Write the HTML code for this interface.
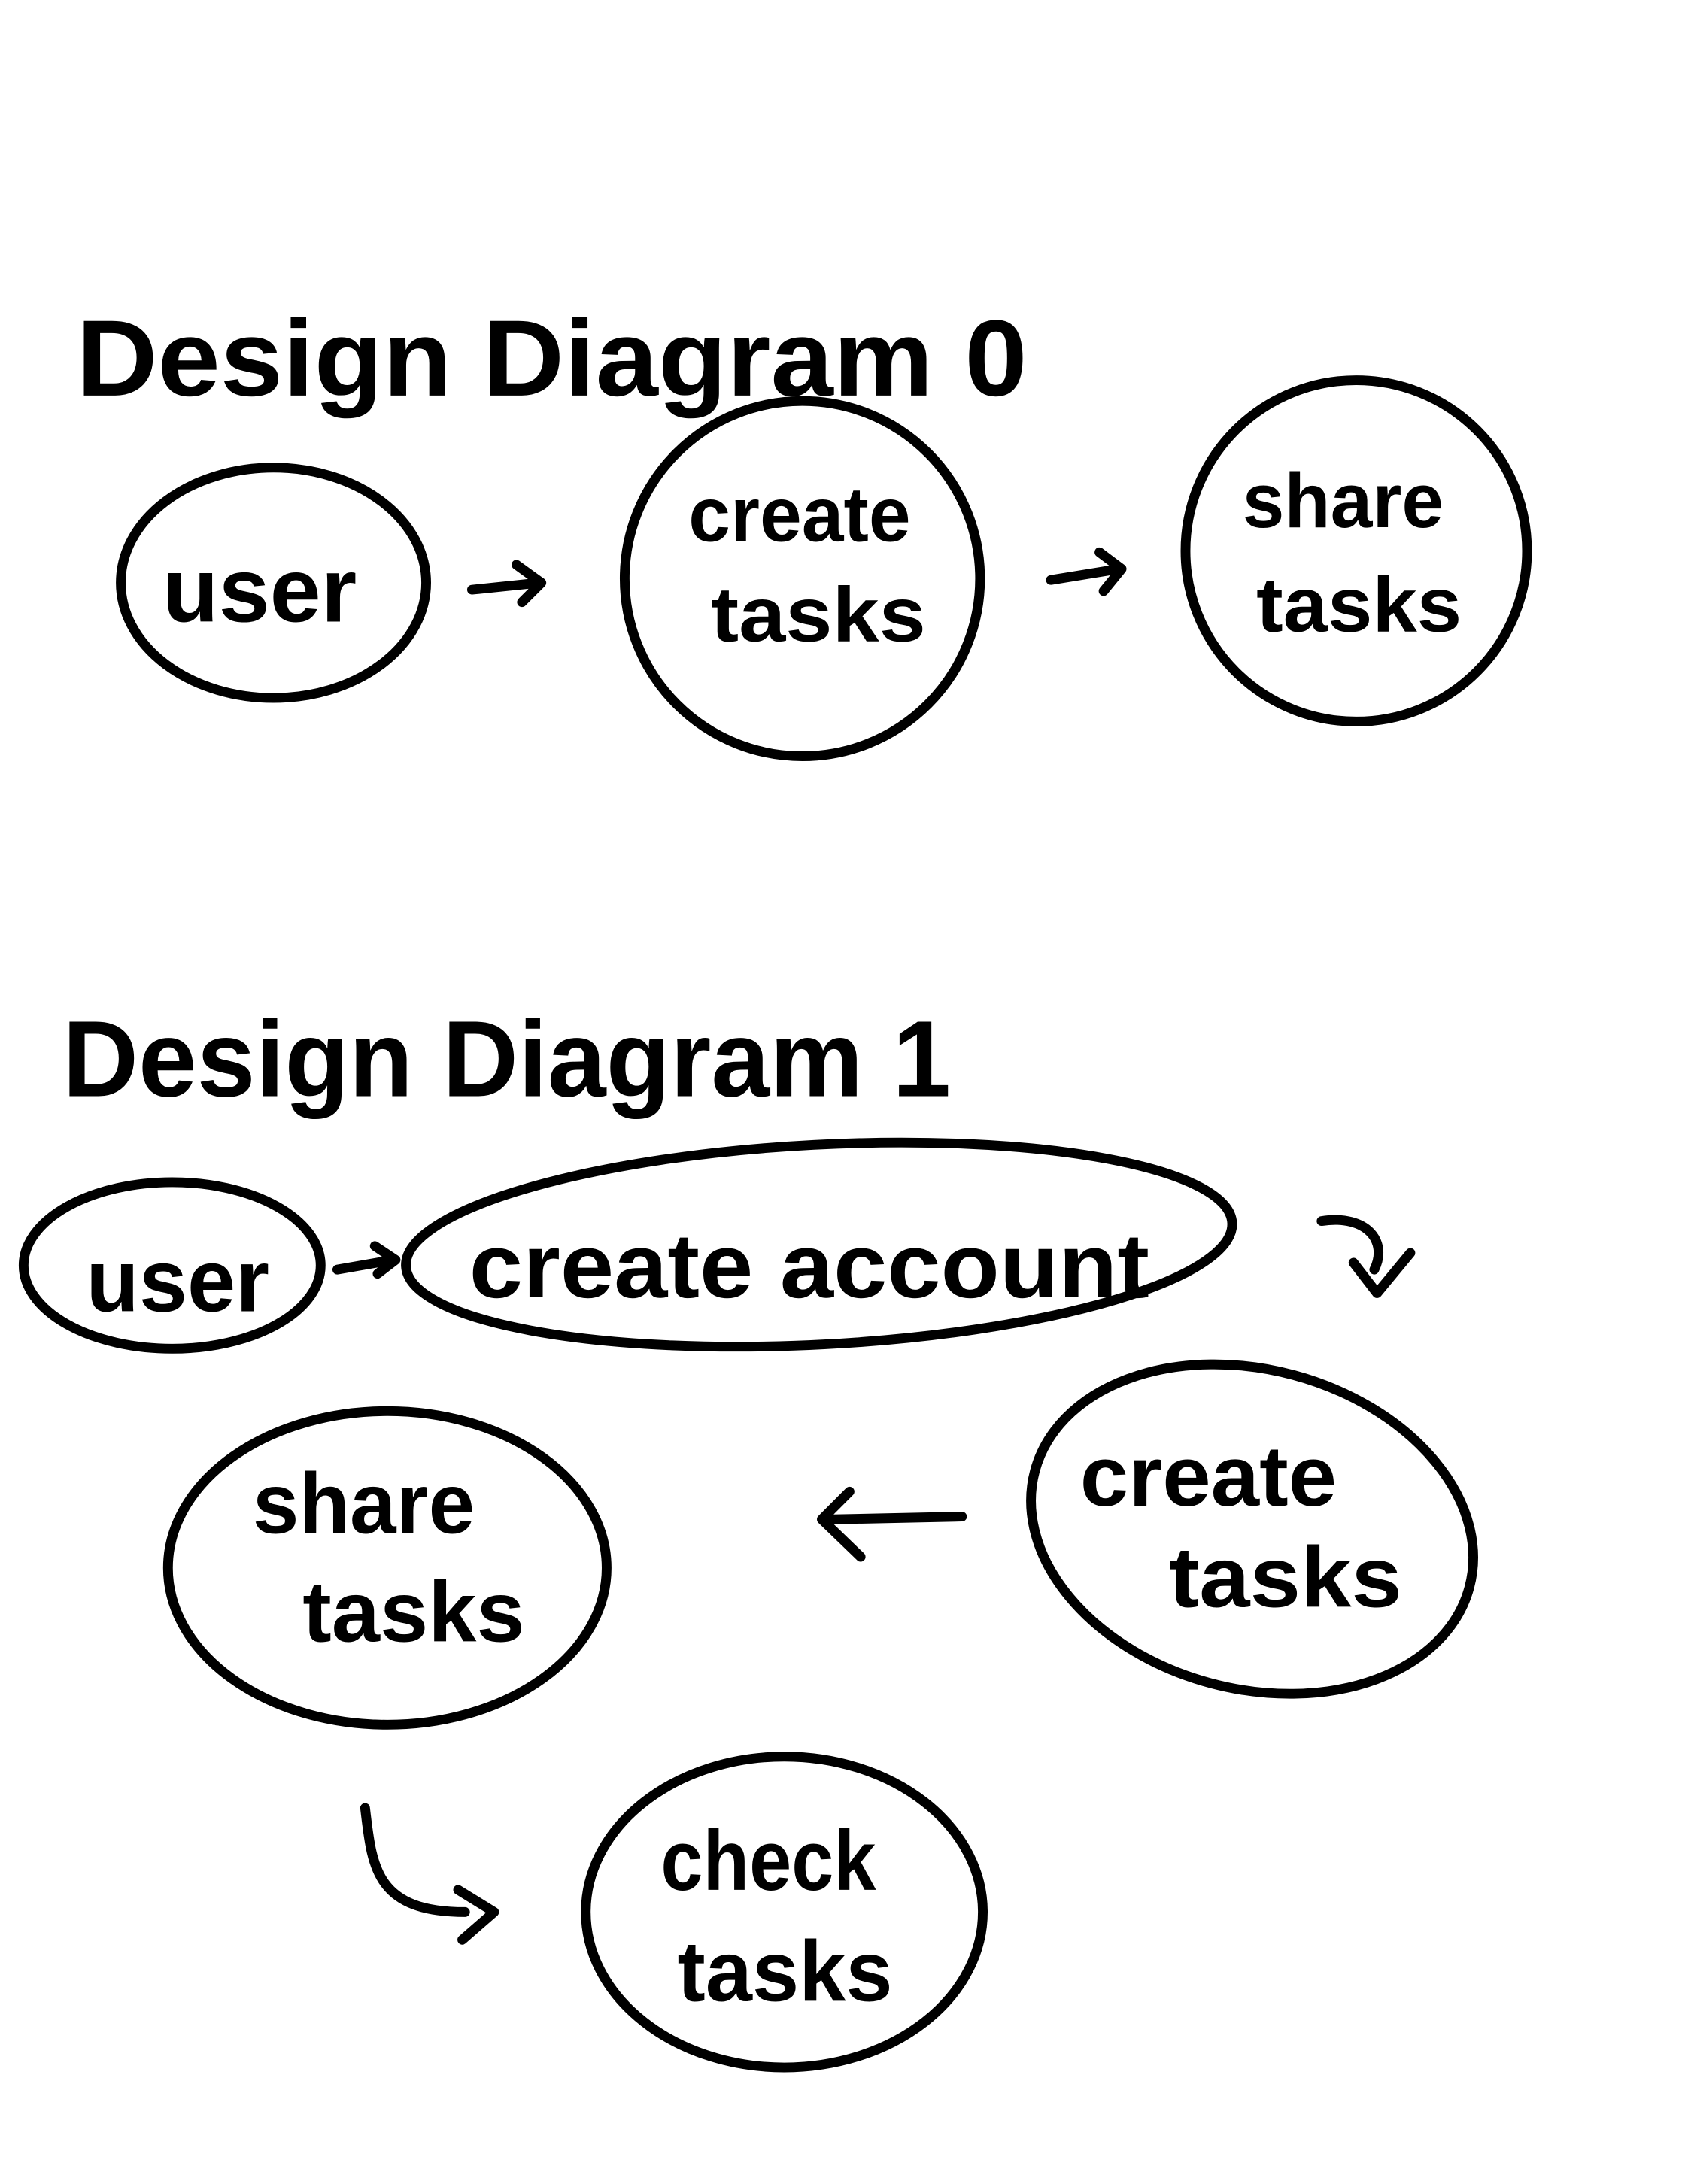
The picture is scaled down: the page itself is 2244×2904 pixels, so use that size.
<!DOCTYPE html>
<html><head><meta charset="utf-8"><style>
html,body{margin:0;padding:0;background:#fff;}
svg{display:block;}
text{font-family:"Liberation Sans Narrow","Liberation Sans",sans-serif;font-weight:bold;fill:#000;}
</style></head><body>
<svg width="2244" height="2904" viewBox="0 0 1216 1574" preserveAspectRatio="none" xmlns="http://www.w3.org/2000/svg">
<rect width="1216" height="1574" fill="#fff"/>
<g fill="none" stroke="#000" stroke-width="7" stroke-linecap="round" stroke-linejoin="round">
<ellipse cx="197" cy="420" rx="110" ry="83"/>
<circle cx="578" cy="417" r="128"/>
<circle cx="977" cy="397" r="123"/>
<path d="M340 425 L388 420 M372 407 L390 420 L376 434"/>
<path d="M757 418 L806 410 M792 398 L808 410 L795 426"/>
<ellipse cx="124" cy="912" rx="107" ry="60"/>
<path d="M243 915 L283 908 M270 898 L285 908 L272 918"/>
<ellipse cx="590" cy="897" rx="298" ry="72" transform="rotate(-3 590 897)"/>
<path d="M952 880 C985 875 1000 895 990 915 M975 910 L992 932 L1016 903"/>
<ellipse cx="902" cy="1102" rx="162" ry="115" transform="rotate(15 902 1102)"/>
<path d="M693 1093 L600 1095 M612 1075 L592 1095 L620 1122"/>
<ellipse cx="279" cy="1130" rx="158" ry="113"/>
<path d="M263 1303 C268 1345 270 1378 335 1378 M330 1362 L356 1378 L333 1398"/>
<ellipse cx="565" cy="1378" rx="143" ry="112"/>
</g>
<text x="55" y="285" font-size="78" textLength="685" lengthAdjust="spacingAndGlyphs">Design Diagram 0</text>
<text x="45" y="790" font-size="78" textLength="640" lengthAdjust="spacingAndGlyphs">Design Diagram 1</text>
<text x="117" y="448" font-size="66" textLength="140" lengthAdjust="spacingAndGlyphs">user</text>
<text x="496" y="390" font-size="56" textLength="160" lengthAdjust="spacingAndGlyphs">create</text>
<text x="512" y="462" font-size="56" textLength="155" lengthAdjust="spacingAndGlyphs">tasks</text>
<text x="895" y="380" font-size="56" textLength="145" lengthAdjust="spacingAndGlyphs">share</text>
<text x="905" y="455" font-size="56" textLength="148" lengthAdjust="spacingAndGlyphs">tasks</text>
<text x="62" y="945" font-size="64" textLength="132" lengthAdjust="spacingAndGlyphs">user</text>
<text x="338" y="935" font-size="66" textLength="490" lengthAdjust="spacingAndGlyphs">create  account</text>
<text x="778" y="1085" font-size="62" textLength="185" lengthAdjust="spacingAndGlyphs">create</text>
<text x="842" y="1158" font-size="62" textLength="168" lengthAdjust="spacingAndGlyphs">tasks</text>
<text x="182" y="1105" font-size="62" textLength="160" lengthAdjust="spacingAndGlyphs">share</text>
<text x="218" y="1183" font-size="62" textLength="160" lengthAdjust="spacingAndGlyphs">tasks</text>
<text x="476" y="1362" font-size="62" textLength="155" lengthAdjust="spacingAndGlyphs">check</text>
<text x="488" y="1442" font-size="62" textLength="155" lengthAdjust="spacingAndGlyphs">tasks</text>
</svg>
</body></html>
